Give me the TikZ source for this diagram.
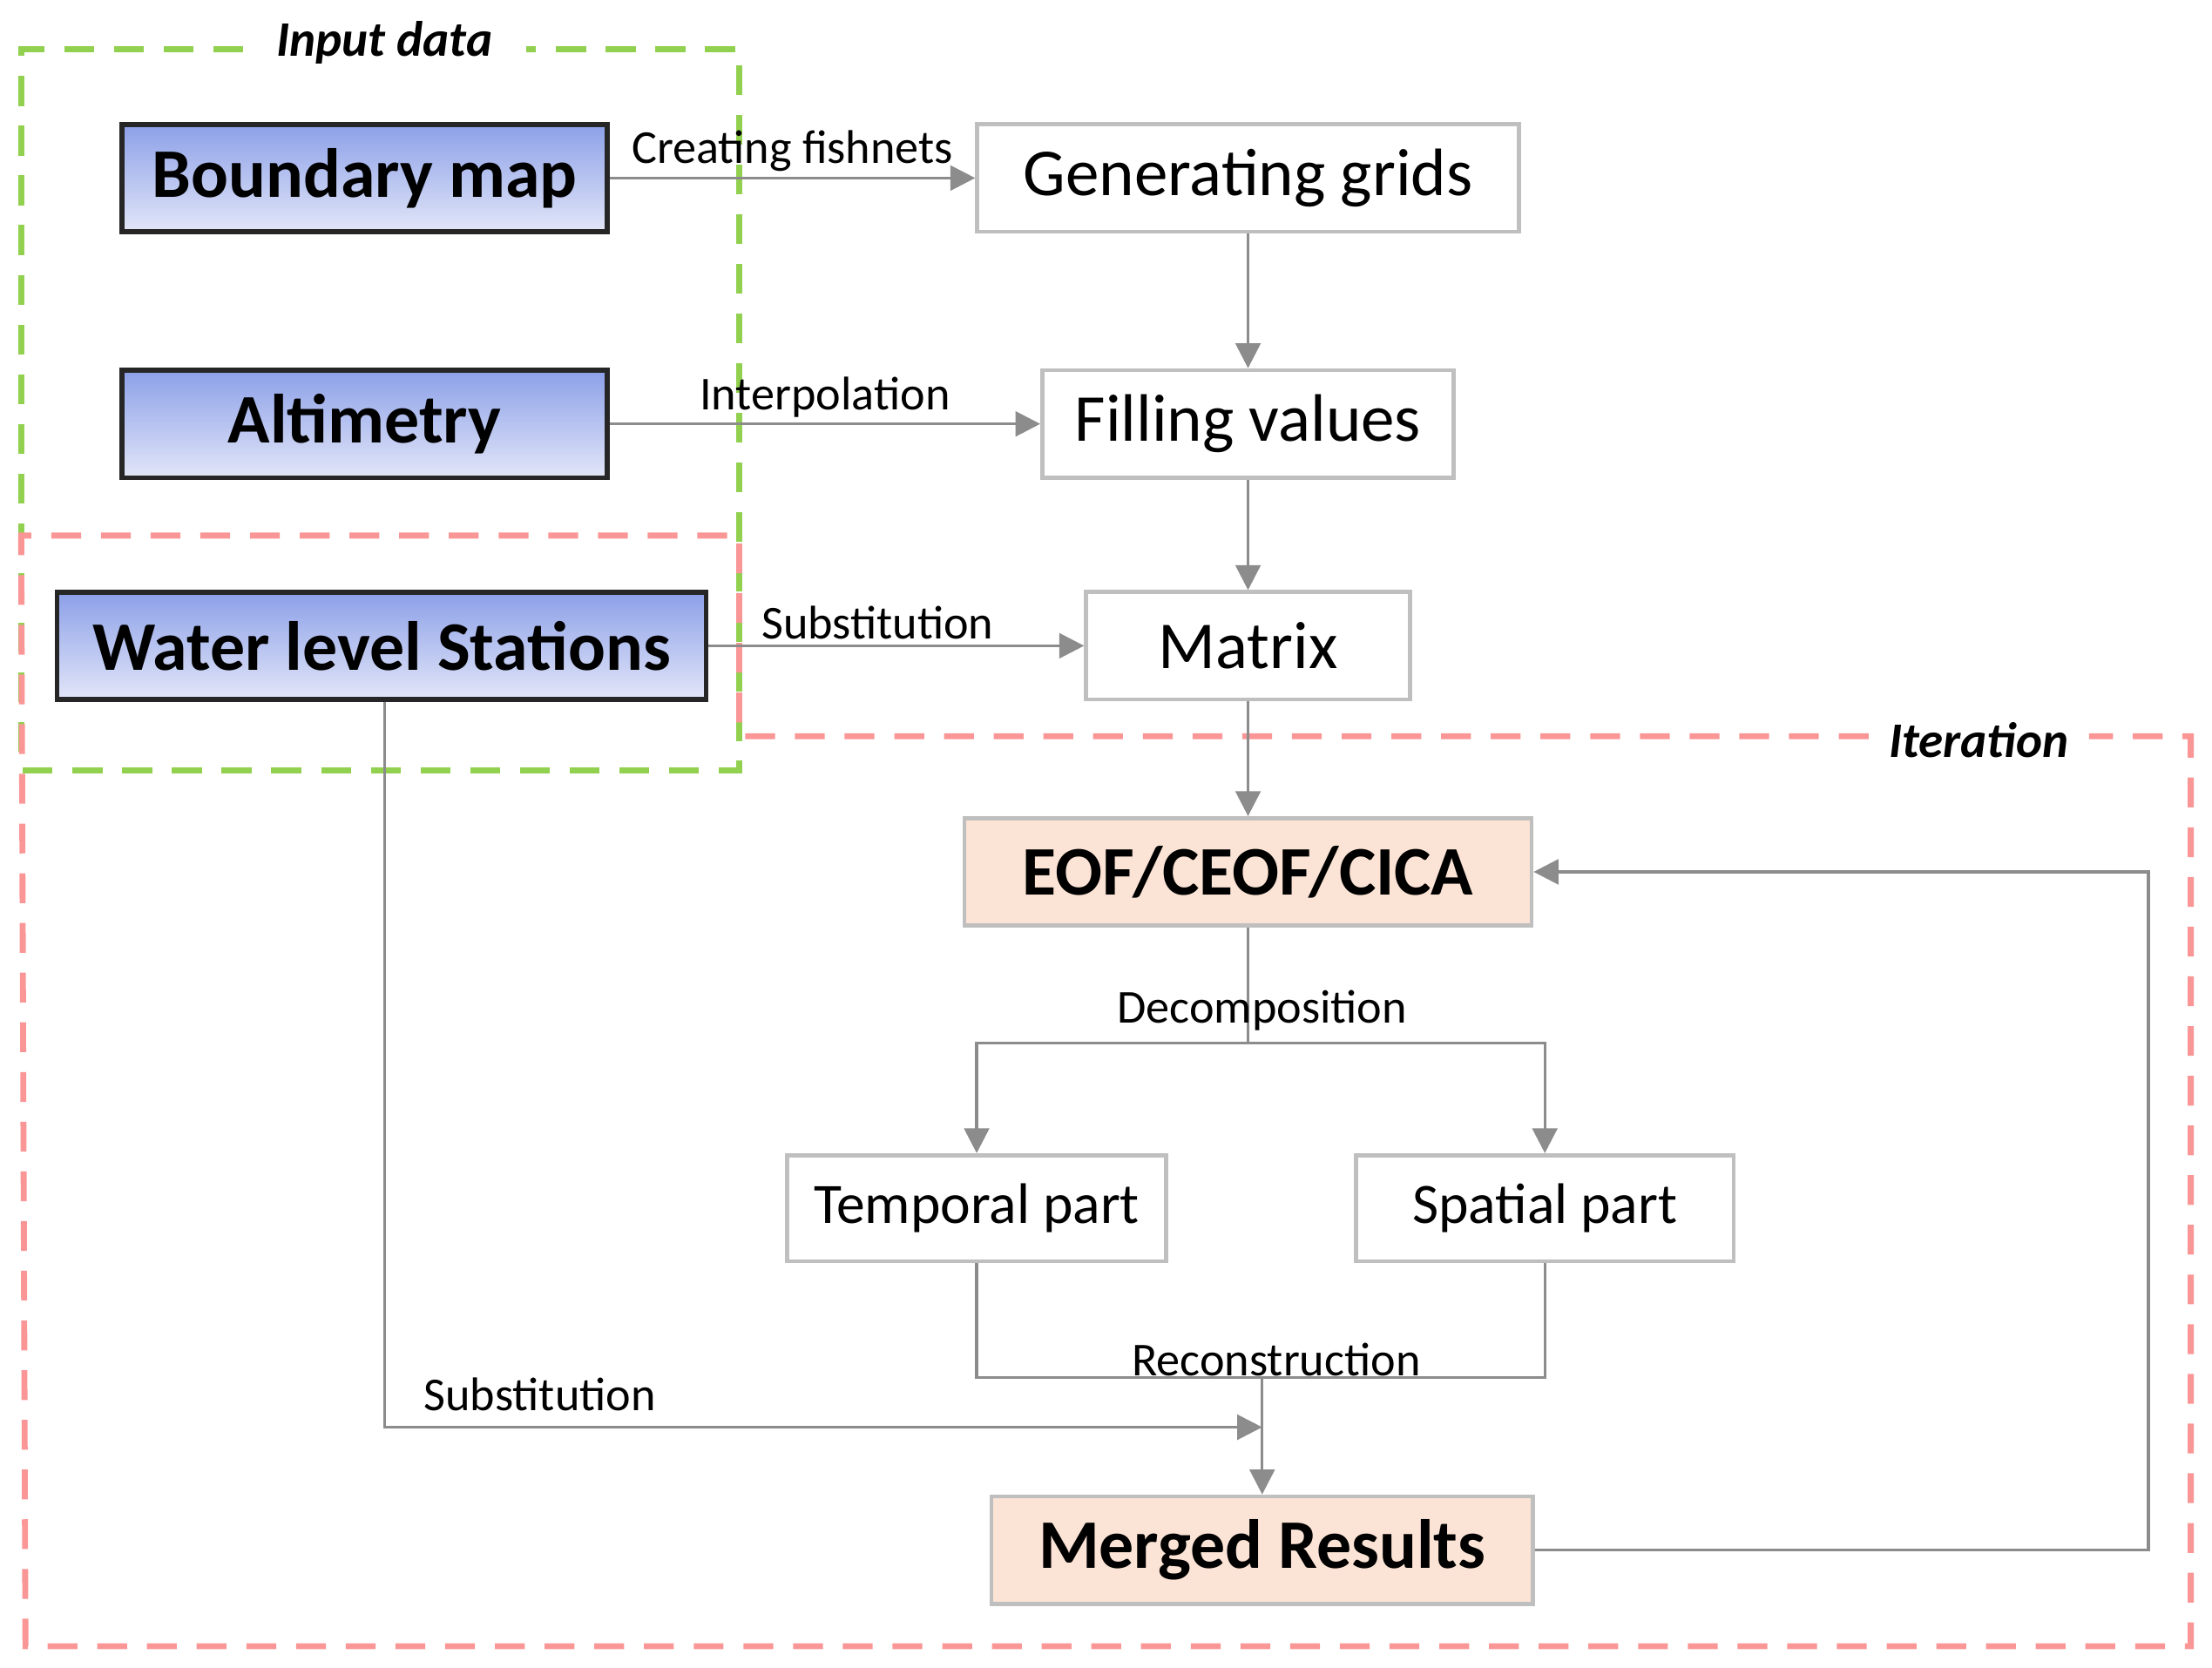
\documentclass[tikz,border=0pt]{standalone}
\usepackage{fontspec}
\setmainfont{Carlito}
\usetikzlibrary{arrows.meta}
\definecolor{ln}{HTML}{8C8C8C}
\definecolor{bx}{HTML}{BFBFBF}
\definecolor{pe}{HTML}{FBE3D5}
\begin{document}
\begin{tikzpicture}[x=0.01cm,y=-0.01cm,
 inb/.style={draw=black!85,line width=1pt,top color={rgb,255:red,140;green,160;blue,232},bottom color={rgb,255:red,226;green,230;blue,248},font=\fontsize{14}{16}\selectfont\bfseries,minimum height=0.76cm},
 wb/.style={draw=bx,line width=0.8pt,fill=white,font=\fontsize{13.5}{16}\selectfont,minimum height=0.76cm},
 pb/.style={draw=bx,line width=0.8pt,fill=pe,font=\fontsize{14}{16}\selectfont\bfseries,minimum height=0.76cm},
 sb/.style={draw=bx,line width=0.8pt,fill=white,font=\fontsize{11.5}{14}\selectfont,minimum height=0.75cm},
 cn/.style={draw=ln,line width=0.6pt},
 ar/.style={cn,-{Triangle[length=5pt,width=5pt]}},
 lb/.style={font=\fontsize{9.5}{11}\selectfont,inner sep=1pt}]
\useasboundingbox (0,0) rectangle (1565,1180);
% boxes
\node[inb,minimum width=3.43cm] (bm) at (258,126) {Boundary map};
\node[inb,minimum width=3.43cm] (al) at (258,300) {Altimetry};
\node[inb,minimum width=4.59cm] (ws) at (270,457) {Water level Stations};
\node[wb,minimum width=3.83cm] (gg) at (883,126) {Generating grids};
\node[wb,minimum width=2.91cm] (fv) at (883,300) {Filling values};
\node[wb,minimum width=2.29cm] (mx) at (883,457) {Matrix};
\node[pb,minimum width=4.01cm] (eof) at (883,617) {EOF/CEOF/CICA};
\node[sb,minimum width=2.68cm] (tp) at (691,855) {Temporal part};
\node[sb,minimum width=2.67cm] (sp) at (1093,855) {Spatial part};
\node[pb,minimum width=3.83cm] (mr) at (893,1097) {Merged Results};
% dashed groups
\draw[draw={rgb,255:red,146;green,208;blue,80},dash pattern=on 6pt off 4pt,line width=1.2pt]
 (172,35) -- (15,35) -- (15,545) -- (523,545) -- (523,35) -- (372,35);
\node[font=\fontsize{10}{12}\selectfont\bfseries\itshape] (inp) at (272,30) {Input data};
\draw[draw={rgb,255:red,250;green,150;blue,150},dash pattern=on 6pt off 4pt,line width=1.2pt]
 (1322,521) -- (523,521) -- (523,379) -- (15,379) -- (18,1165) -- (1550,1165) -- (1550,521) -- (1478,521);
\node[font=\fontsize{10}{12}\selectfont\bfseries\itshape] (it) at (1400,524) {Iteration};
% connectors
\draw[ar] (bm) -- node[lb,above,pos=0.5] {Creating fishnets} (gg);
\draw[ar] (al) -- node[lb,above,pos=0.5] {Interpolation} (fv);
\draw[ar] (ws) -- node[lb,above,pos=0.45] {Substitution} (mx);
\draw[ar] (gg) -- (fv);
\draw[ar] (fv) -- (mx);
\draw[ar] (mx) -- (eof);
\coordinate (d0) at (883,738);
\draw[cn] (eof) -- (d0);
\node[lb] (dl) at (893,715) {Decomposition};
\draw[ar] (d0) -| (tp);
\draw[ar] (d0) -| (sp);
\coordinate (r0) at (893,975);
\draw[cn] (tp.south) |- (r0) -| (sp.south);
\node[lb] (rl) at (903,962) {Reconstruction};
\draw[ar] (r0) -- (mr);
\coordinate (s0) at (893,1010);
\draw[ar] (ws.south -| 272,0) |- (s0);
\node[lb] (sl) at (382,987) {Substitution};
\coordinate (e0) at (1520,1097);
\draw[ar] (mr) -- (e0) |- (eof);
\end{tikzpicture}
\end{document}
